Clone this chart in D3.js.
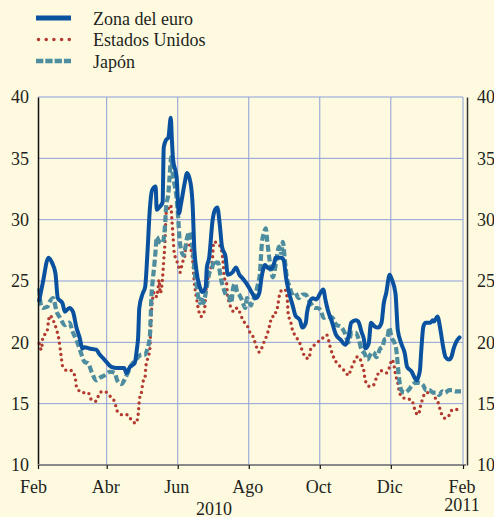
<!DOCTYPE html>
<html><head><meta charset="utf-8">
<script src="https://cdn.jsdelivr.net/npm/d3@7"></script>
<style>
html,body{margin:0;padding:0;background:#fdfadf;}
svg{display:block;font-family:"Liberation Serif","Times New Roman",serif;}
</style></head>
<body>
<svg id="c" width="494" height="517"></svg>
<script>
// ---- data (days since 1 Feb 2010, value) ----
const seriesNames = ["Zona del euro", "Estados Unidos", "Japón"];
const monthLabels = ["Feb", "Abr", "Jun", "Ago", "Oct", "Dic", "Feb"];
const monthDates = ["2010-02-01","2010-04-01","2010-06-01","2010-08-01","2010-10-01","2010-12-01","2011-02-01"];
const yearLabels = ["2010", "2011"];
const yTicks = [10, 15, 20, 25, 30, 35, 40];

const euroDays = [1,4,9,12,15,17,21,23,27,30,33,36,38,40,44,50,53,57,63,68,74,76,79,83,85,86,87,90,92,94,96,98,101,102,104,107,108,110,112,114,115,116,119,121,123,126,128,131,133,134,136,139,141,144,145,147,150,152,154,156,158,161,163,167,170,173,175,179,181,184,187,190,192,195,197,200,203,204,209,211,213,215,219,221,225,227,230,231,233,236,239,243,245,247,249,252,256,260,264,267,269,273,275,278,280,281,284,286,289,292,295,297,299,302,304,307,309,312,315,317,321,323,325,328,329,331,333,337,339,340,343,346,348,350,353,355,357,359,362];
const euroVals = [23.4,24.8,26.9,26.5,25.6,23.6,23.2,22.5,22.8,22.5,21.2,20.3,19.5,19.6,19.5,19.4,19.0,18.6,18.0,17.9,17.9,17.5,18.0,18.3,19.5,20.4,22.8,24.0,24.5,27.3,30.8,32.4,32.7,30.8,31.0,31.4,35.9,36.5,36.7,38.3,36.5,34.9,33.5,30.5,31.4,33.0,33.8,33.0,30.8,28.1,25.9,24.5,24.1,24.5,26.1,26.9,30.0,30.8,31.0,29.7,27.8,27.0,25.5,25.7,26.1,25.5,25.3,24.8,24.5,24.0,23.6,24.0,25.3,26.3,26.1,26.0,26.5,26.9,26.9,26.7,25.3,24.3,22.9,22.2,21.8,21.2,21.6,22.4,23.2,23.6,23.5,24.1,24.3,23.4,22.6,21.8,20.6,20.2,19.8,20.6,21.6,21.8,21.7,20.8,20.2,19.5,19.9,21.6,21.3,21.2,21.6,23.2,24.0,25.5,25.1,24.0,21.0,19.9,19.1,18.0,17.6,17.2,16.9,17.7,19.1,21.3,21.6,21.6,21.8,21.7,22.1,20.8,19.6,18.8,18.6,18.8,19.5,20.0,20.4];

const usDays = [1,3,4,8,9,10,13,16,18,19,20,21,25,29,32,33,38,43,46,50,53,57,62,66,68,72,77,80,84,86,86.5,87,89,90,92,92.5,94,96,97,98,100,102,103,104,105,107,108,109,109.5,110,112,114,115,116,117,119,121,122,124,126,127,129,131,133,134,136,138,140,143,144,146,148,150,150.5,151,155,156,158,159,160,162,162.5,164,166,168,171,173,176,180,182,185,187,190,192,194,197,199,201,203,204,206,207,210,212,214,215,217,218,222,225,227,231,233,234,239,244,248,251,253,256,261,263,267,268,271,274,276,278,280,281,285,288,291,294,297,299,302,304,306,307,309,310,313,317,321,323,325,327,328,330,333,335,339,341,344,346,350,352,356,358,362];
const usVals = [19.9,19.4,20.3,21.0,21.7,22.2,21.8,21.0,20.2,19.5,18.8,18.1,17.7,17.7,17.1,16.4,15.9,15.9,15.3,15.2,15.9,16.0,15.6,15.1,14.4,14.1,14.1,13.7,13.4,14.1,14.6,15.3,16.0,16.7,17.2,17.9,18.6,19.4,21.6,23.2,24.1,23.7,24.3,25.1,24.0,25.3,26.7,28.1,29.4,30.5,30.9,31.2,30.0,28.6,27.3,26.7,26.1,25.7,26.5,27.0,27.7,28.1,27.7,26.5,25.1,23.7,22.6,22.1,22.6,24.0,25.3,25.9,27.0,27.8,28.2,28.0,27.9,27.3,26.5,25.3,24.8,24.1,23.3,22.8,22.5,22.8,22.5,21.8,21.3,20.8,20.4,19.8,19.2,19.5,20.0,20.7,21.4,22.1,22.1,22.4,23.0,23.7,24.3,24.3,23.6,22.2,21.7,21.2,20.4,19.9,19.3,18.7,18.7,19.4,19.9,20.3,20.6,19.6,19.0,18.4,17.9,17.7,17.3,17.6,18.3,18.8,18.8,18.2,17.6,16.9,16.4,16.5,17.2,17.7,17.6,17.5,18.0,18.6,18.0,17.4,16.7,16.1,15.5,15.4,15.3,14.7,14.2,14.1,14.6,15.3,15.9,15.9,15.9,15.5,15.0,14.3,13.8,13.9,14.5,14.5,14.6,15.0];

const japanDays = [1,2,4,8,10,13,16,19,23,27,30,33,36,40,43,46,50,53,57,62,66,68,72,74,77,80,85,89,92,94,96,96.6,97.4,98.3,100,101,102,104,107,109,110,112,113,114.5,115.4,117,119,120.5,121.4,123,125,126.5,128,130,131.6,133.3,134.2,136,137.6,139.3,141,142,144.5,146,147,149.6,151.3,153,154.7,156.4,157.3,159,160.7,162.4,164,166,167.5,169.3,171,172.7,174.4,176,178,179.5,181,183,184,185.5,187,189,190.6,191.5,192.3,194,195.7,196.6,198.3,200,201.7,203.4,205.2,206.9,208.6,209.4,210.3,212,213.7,216.3,218,220.5,224,227.4,229.9,231.7,234.2,237.6,240.2,242.8,245.3,247.9,250.5,253,256.4,259.9,263.3,266.7,269.3,272.7,275.3,277.8,280.4,282.9,285.5,288,290.6,294,295.8,297.5,300,301.8,303.5,306,307.7,308.6,309.4,310.3,312,314.6,318,320.6,324,327.4,330.8,333.4,335.9,339.4,341.9,344.5,347.1,349.6,353,355.6,358.2,360.8,363.3];
const japanVals = [24.4,23.3,22.8,22.9,23.3,23.6,22.5,22.0,21.4,21.6,20.8,20.2,19.4,18.4,18.3,17.6,16.9,17.1,17.3,17.6,17.5,16.9,16.6,16.9,17.5,18.1,18.7,19.0,19.0,19.5,20.4,21.6,23.7,24.8,26.4,27.5,28.6,28.2,28.1,29.4,31.0,32.2,33.5,35.1,34.0,33.0,31.8,30.0,28.6,27.5,27.1,27.7,28.5,29.0,28.3,27.3,26.1,24.8,23.7,23.2,23.7,23.2,24.3,25.1,25.6,26.1,26.7,26.5,26.5,25.6,25.1,24.5,24.0,23.7,23.7,23.2,24.4,24.8,24.1,23.9,23.6,23.2,22.8,23.6,23.4,23.0,23.4,23.6,24.0,24.8,25.6,27.0,28.1,28.9,29.3,28.5,27.1,26.0,25.3,25.9,27.0,27.8,27.3,27.5,28.2,26.7,25.3,24.5,24.0,24.1,23.6,23.9,23.9,23.6,23.2,22.8,22.8,22.6,22.0,22.1,22.1,22.0,21.4,21.3,20.8,20.0,20.8,20.8,20.3,19.4,19.1,18.6,19.0,19.2,18.8,19.5,19.6,20.2,20.4,21.2,20.4,20.0,19.4,18.6,17.7,16.9,16.1,15.9,16.1,16.4,16.7,16.7,16.5,16.1,16.1,15.9,15.9,15.7,16.0,15.9,16.1,16.1,16.0,16.0,16.0];

// ---- chart ----
const svg = d3.select("#c");
const t0 = new Date(2010, 1, 1);
const toDate = d => new Date(t0.getTime() + d * 864e5);
const parse = d3.timeParse("%Y-%m-%d");

const x = d3.scaleTime().domain([t0, parse("2011-02-01")]).range([38, 463]);
const y = d3.scaleLinear().domain([10, 40]).range([465, 97]);

const gridColor = "#8c9fd8";
const textColor = "#231f20";

// grid
const grid = svg.append("g");
grid.selectAll("line.h").data(yTicks.filter(v => v > 10)).join("line")
  .attr("x1", x.range()[0]).attr("x2", x.range()[1])
  .attr("y1", d => y(d)).attr("y2", d => y(d))
  .attr("stroke", gridColor).attr("stroke-width", 1);
grid.selectAll("line.v").data(monthDates.slice(1).map(parse)).join("line")
  .attr("x1", d => x(d)).attr("x2", d => x(d))
  .attr("y1", y(40)).attr("y2", y(10))
  .attr("stroke", gridColor).attr("stroke-width", 1);

// series
const mk = (days, vals) => days.map((d, i) => ({ t: toDate(d), v: vals[i] }));
const line = d3.line().x(d => x(d.t)).y(d => y(d.v)).curve(d3.curveMonotoneX);

const styles = [
  { data: mk(usDays, usVals), color: "#b23a30", width: 3.4, dash: "0 5.6", cap: "round" },
  { data: mk(japanDays, japanVals), color: "#4e8ca0", width: 4.2, dash: "7 3", cap: "butt" },
  { data: mk(euroDays, euroVals), color: "#0a52a0", width: 4, dash: null, cap: "round" }
];
styles.forEach(s => {
  svg.append("path").datum(s.data)
    .attr("d", line).attr("fill", "none")
    .attr("stroke", s.color).attr("stroke-width", s.width)
    .attr("stroke-linecap", s.cap).attr("stroke-linejoin", "round")
    .attr("stroke-dasharray", s.dash);
});

// axes
const leftAxis = svg.append("g").attr("transform", "translate(38,0)")
  .call(d3.axisLeft(y).tickValues(yTicks).tickSize(0).tickPadding(9));
const rightAxis = svg.append("g").attr("transform", "translate(467,0)")
  .call(d3.axisRight(y).tickValues(yTicks).tickSize(0).tickPadding(10));
const bottomAxis = svg.append("g").attr("transform", "translate(0,465)")
  .call(d3.axisBottom(x).tickValues(monthDates.map(parse)).tickSize(4).tickPadding(11)
    .tickFormat((d, i) => monthLabels[i]));

[leftAxis, rightAxis, bottomAxis].forEach(g => {
  g.selectAll("text").attr("font-size", 18).attr("fill", textColor)
    .attr("font-family", '"Liberation Serif","Times New Roman",serif');
});
leftAxis.select(".domain").attr("stroke", "#111").attr("stroke-width", 1.5);
rightAxis.select(".domain").attr("stroke", "#333").attr("stroke-width", 1.5);
bottomAxis.select(".domain").attr("stroke", "#8a8a8a").attr("stroke-width", 2.2)
  .attr("d", `M${x.range()[0]},0H${x.range()[1] + 3}`);
bottomAxis.selectAll(".tick line").attr("stroke", "#111").attr("stroke-width", 1.2);
bottomAxis.selectAll(".tick text").attr("dx", (d, i) => i === 0 ? -5 : -1.5);

// year labels
svg.append("text").attr("x", 214).attr("y", 515).attr("text-anchor", "middle")
  .attr("font-size", 18).attr("fill", textColor).text(yearLabels[0]);
svg.append("text").attr("x", 462).attr("y", 511).attr("text-anchor", "middle")
  .attr("font-size", 18).attr("fill", textColor).text(yearLabels[1]);

// legend
const legend = svg.append("g");
const legendStyles = [styles[2], styles[0], styles[1]];
seriesNames.forEach((name, i) => {
  const s = legendStyles[i];
  const ly = 18 + i * 21.5;
  const x1 = i === 1 ? 38.5 : 36, x2 = i === 1 ? 70 : 71;
  legend.append("line").attr("x1", x1).attr("x2", x2).attr("y1", ly).attr("y2", ly)
    .attr("stroke", s.color).attr("stroke-width", i === 0 ? 5 : (i === 1 ? 3.6 : 4.4))
    .attr("stroke-linecap", i === 1 ? "round" : "butt")
    .attr("stroke-dasharray", i === 1 ? "0 7.7" : (i === 2 ? "7.3 2" : null));
  legend.append("text").attr("x", 93).attr("y", ly + 6.5)
    .attr("font-size", 18).attr("fill", textColor).text(name);
});
</script>
</body></html>
